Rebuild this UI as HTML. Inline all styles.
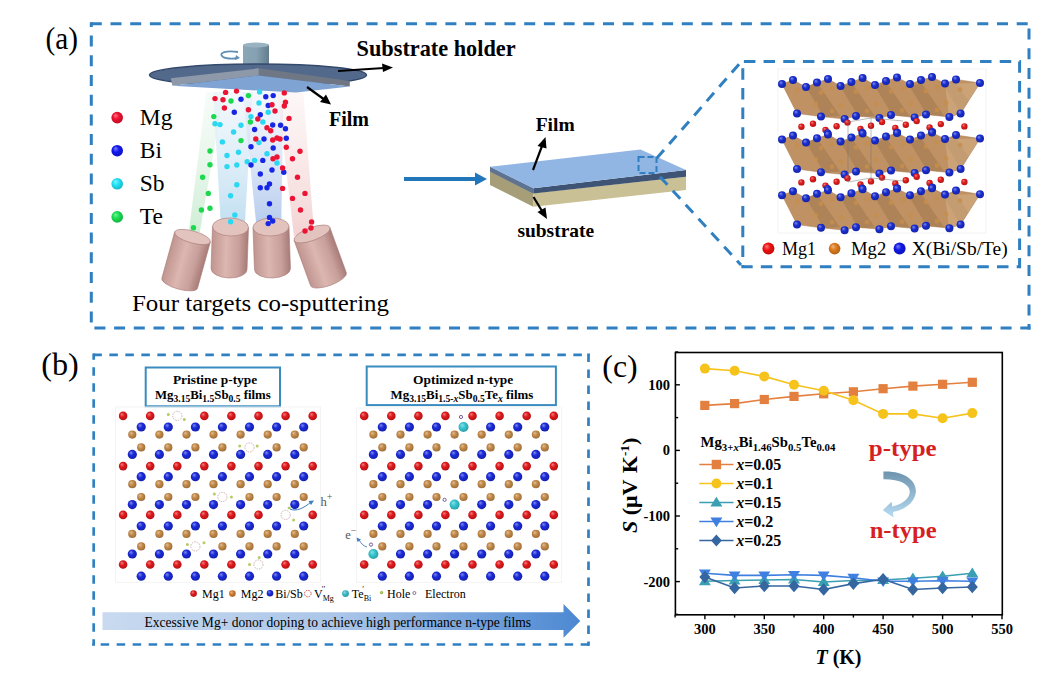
<!DOCTYPE html>
<html><head><meta charset="utf-8"><title>figure</title>
<style>
html,body{margin:0;padding:0;background:#fff;width:1050px;height:681px;overflow:hidden}
svg{display:block}
text{font-family:"Liberation Serif",serif}
</style></head><body>
<svg width="1050" height="681" viewBox="0 0 1050 681">
<defs>
<linearGradient id="cyl" x1="0" x2="1" y1="0" y2="0">
<stop offset="0" stop-color="#c09590"/><stop offset="0.4" stop-color="#dcb6b0"/><stop offset="0.75" stop-color="#c9a09b"/><stop offset="1" stop-color="#a87c78"/></linearGradient>
<linearGradient id="post" x1="0" x2="1" y1="0" y2="0">
<stop offset="0" stop-color="#8aa6b6"/><stop offset="0.5" stop-color="#86a2b2"/><stop offset="1" stop-color="#627e8e"/></linearGradient>
<linearGradient id="banner" x1="0" x2="1" y1="0" y2="0">
<stop offset="0" stop-color="#c9daf0"/><stop offset="0.5" stop-color="#aac5e8"/><stop offset="1" stop-color="#4c88d2"/></linearGradient>
<linearGradient id="curv" x1="0" x2="0" y1="0" y2="1">
<stop offset="0" stop-color="#6e93ae"/><stop offset="1" stop-color="#b6dcf2"/></linearGradient>
</defs>
<text x="45.5" y="48.5" font-size="32.6" font-weight="normal" text-anchor="start" fill="#000"  textLength="32.5" lengthAdjust="spacingAndGlyphs">(a)</text>
<line x1="89.8" y1="23.8" x2="1030.5" y2="23.8" stroke="#2f7fc1" stroke-width="3" stroke-dasharray="11 8.7" stroke-dashoffset="-1" stroke-linecap="butt"/>
<line x1="91.3" y1="22.3" x2="91.3" y2="329.5" stroke="#2f7fc1" stroke-width="3" stroke-dasharray="11 8.7" stroke-dashoffset="6.4" stroke-linecap="butt"/>
<line x1="89.8" y1="328" x2="1030.5" y2="328" stroke="#2f7fc1" stroke-width="3" stroke-dasharray="11 8.7" stroke-dashoffset="15.1" stroke-linecap="butt"/>
<line x1="1029" y1="22.3" x2="1029" y2="329.5" stroke="#2f7fc1" stroke-width="3" stroke-dasharray="11 8.7" stroke-dashoffset="13.4" stroke-linecap="butt"/>
<defs><linearGradient id="bmG" x1="0" y1="0" x2="0" y2="1"><stop offset="0" stop-color="#e4f4e8" stop-opacity="0.3"/><stop offset="1" stop-color="#bfe8c8" stop-opacity="0.75"/></linearGradient><linearGradient id="bmC" x1="0" y1="0" x2="0" y2="1"><stop offset="0" stop-color="#e0eef8" stop-opacity="0.4"/><stop offset="1" stop-color="#b4d8ee" stop-opacity="0.8"/></linearGradient><linearGradient id="bmB" x1="0" y1="0" x2="0" y2="1"><stop offset="0" stop-color="#dde6f6" stop-opacity="0.3"/><stop offset="1" stop-color="#a6c0ea" stop-opacity="0.8"/></linearGradient><linearGradient id="bmR" x1="0" y1="0" x2="0" y2="1"><stop offset="0" stop-color="#f8e4e4" stop-opacity="0.3"/><stop offset="1" stop-color="#f0c4c4" stop-opacity="0.75"/></linearGradient></defs>
<polygon points="206.4,92 224,92 199.8,232 188.8,232" fill="url(#bmG)"/>
<polygon points="213,92 252.6,92 245,222 220.7,222" fill="url(#bmC)"/>
<polygon points="242.7,92 283.5,92 281.3,222 256,222" fill="url(#bmB)"/>
<polygon points="276.9,92 303.3,92 314,232 294,236" fill="url(#bmR)"/>
<rect x="243" y="45" width="26" height="22" fill="url(#post)"/>
<ellipse cx="256" cy="45" rx="13" ry="2.5" fill="#9ab3c1"/>
<path d="M238,52 C226,50 219,53 222,56 C224,59 233,59 238,58" fill="none" stroke="#5f8fb5" stroke-width="1.8"/>
<path d="M236,55 L240,58 L235,60 Z" fill="#5f8fb5"/>
<ellipse cx="258" cy="75" rx="108.5" ry="11" fill="#53698c" stroke="#344a6c" stroke-width="1.5"/>
<polygon points="170.8,78.2 258.9,68.3 258.9,75.5 172.4,85.8" fill="#8d98a8"/>
<polygon points="258.9,68.3 349.8,81 349.8,86.5 258.9,75.5" fill="#6f7785"/>
<polygon points="172.4,85.8 258.9,75.5 349.8,86.5 296.1,92.6" fill="#7fa3d3"/>
<line x1="338" y1="71" x2="384" y2="68" stroke="#000" stroke-width="2.2"/>
<polygon points="393,67.5 382,63.5 383,72" fill="#000"/>
<line x1="307" y1="87" x2="325" y2="100" stroke="#000" stroke-width="2.2"/>
<polygon points="331,104.5 320,102 326,94.5" fill="#000"/>
<text x="356.6" y="56.2" font-size="22.5" font-weight="bold" text-anchor="start" fill="#000"  textLength="159" lengthAdjust="spacingAndGlyphs">Substrate holder</text>
<text x="329" y="125.6" font-size="20" font-weight="bold" text-anchor="start" fill="#000"  >Film</text>
<circle cx="117.2" cy="117.6" r="5.8" fill="url(#gf0102e)"/>
<text x="139.8" y="124.8" font-size="23.5" font-weight="normal" text-anchor="start" fill="#000"  >Mg</text>
<circle cx="117.2" cy="150.7" r="5.8" fill="url(#g1218f0)"/>
<text x="139.8" y="157.89999999999998" font-size="23.5" font-weight="normal" text-anchor="start" fill="#000"  >Bi</text>
<circle cx="117.2" cy="183.8" r="5.8" fill="url(#g20e4f8)"/>
<text x="139.8" y="191.0" font-size="23.5" font-weight="normal" text-anchor="start" fill="#000"  >Sb</text>
<circle cx="117.2" cy="216.9" r="5.8" fill="url(#g18e050)"/>
<text x="139.8" y="224.1" font-size="23.5" font-weight="normal" text-anchor="start" fill="#000"  >Te</text>
<g transform="translate(192.5,237) rotate(15.5)">
<path d="M-18.5,0 L-18.5,48 A18.5,6 0 0 0 18.5,48 L18.5,0 Z" fill="url(#cyl)" stroke="#a87a76" stroke-width="0.6"/>
<ellipse cx="0" cy="0" rx="18.5" ry="6" fill="#e3c3be" stroke="#a87c78" stroke-width="0.6"/>
</g>
<g transform="translate(230.5,227) rotate(2)">
<path d="M-18,0 L-18,42 A18,9 0 0 0 18,42 L18,0 Z" fill="url(#cyl)" stroke="#a87a76" stroke-width="0.6"/>
<ellipse cx="0" cy="0" rx="18" ry="9" fill="#e3c3be" stroke="#a87c78" stroke-width="0.6"/>
</g>
<g transform="translate(271,227) rotate(-2)">
<path d="M-18,0 L-18,42 A18,9 0 0 0 18,42 L18,0 Z" fill="url(#cyl)" stroke="#a87a76" stroke-width="0.6"/>
<ellipse cx="0" cy="0" rx="18" ry="9" fill="#e3c3be" stroke="#a87c78" stroke-width="0.6"/>
</g>
<g transform="translate(312,234) rotate(-20)">
<path d="M-19,0 L-19,48 A19,6.5 0 0 0 19,48 L19,0 Z" fill="url(#cyl)" stroke="#a87a76" stroke-width="0.6"/>
<ellipse cx="0" cy="0" rx="19" ry="6.5" fill="#e3c3be" stroke="#a87c78" stroke-width="0.6"/>
</g>
<circle cx="248.4" cy="95.6" r="2.7" fill="#1cd84e"/>
<circle cx="231.0" cy="101.0" r="2.7" fill="#1cd84e"/>
<circle cx="213.8" cy="116.6" r="2.7" fill="#1cd84e"/>
<circle cx="250.4" cy="122.0" r="2.7" fill="#1cd84e"/>
<circle cx="241.0" cy="140.6" r="2.7" fill="#1cd84e"/>
<circle cx="210.0" cy="151.0" r="2.7" fill="#1cd84e"/>
<circle cx="210.0" cy="164.7" r="2.7" fill="#1cd84e"/>
<circle cx="202.6" cy="177.3" r="2.7" fill="#1cd84e"/>
<circle cx="208.3" cy="193.4" r="2.7" fill="#1cd84e"/>
<circle cx="201.4" cy="210.0" r="2.7" fill="#1cd84e"/>
<circle cx="210.0" cy="208.2" r="2.7" fill="#1cd84e"/>
<circle cx="193.5" cy="227.8" r="2.7" fill="#1cd84e"/>
<circle cx="259.6" cy="91.9" r="2.7" fill="#2ad8f2"/>
<circle cx="259.0" cy="103.0" r="2.7" fill="#2ad8f2"/>
<circle cx="268.2" cy="112.2" r="2.7" fill="#2ad8f2"/>
<circle cx="251.0" cy="116.6" r="2.7" fill="#2ad8f2"/>
<circle cx="262.8" cy="122.0" r="2.7" fill="#2ad8f2"/>
<circle cx="215.0" cy="123.8" r="2.7" fill="#2ad8f2"/>
<circle cx="220.0" cy="124.6" r="2.7" fill="#2ad8f2"/>
<circle cx="241.0" cy="125.3" r="2.7" fill="#2ad8f2"/>
<circle cx="233.6" cy="132.0" r="2.7" fill="#2ad8f2"/>
<circle cx="222.4" cy="141.9" r="2.7" fill="#2ad8f2"/>
<circle cx="259.0" cy="142.6" r="2.7" fill="#2ad8f2"/>
<circle cx="238.5" cy="152.3" r="2.7" fill="#2ad8f2"/>
<circle cx="227.0" cy="155.5" r="2.7" fill="#2ad8f2"/>
<circle cx="267.0" cy="153.8" r="2.7" fill="#2ad8f2"/>
<circle cx="247.2" cy="161.7" r="2.7" fill="#2ad8f2"/>
<circle cx="254.6" cy="160.4" r="2.7" fill="#2ad8f2"/>
<circle cx="277.0" cy="163.0" r="2.7" fill="#2ad8f2"/>
<circle cx="227.0" cy="166.6" r="2.7" fill="#2ad8f2"/>
<circle cx="236.8" cy="165.0" r="2.7" fill="#2ad8f2"/>
<circle cx="236.8" cy="184.7" r="2.7" fill="#2ad8f2"/>
<circle cx="230.6" cy="195.8" r="2.7" fill="#2ad8f2"/>
<circle cx="234.8" cy="215.0" r="2.7" fill="#2ad8f2"/>
<circle cx="230.6" cy="221.8" r="2.7" fill="#2ad8f2"/>
<circle cx="241.0" cy="99.3" r="2.7" fill="#1626e4"/>
<circle cx="265.8" cy="96.8" r="2.7" fill="#1626e4"/>
<circle cx="273.2" cy="95.6" r="2.7" fill="#1626e4"/>
<circle cx="268.2" cy="105.5" r="2.7" fill="#1626e4"/>
<circle cx="234.3" cy="112.2" r="2.7" fill="#1626e4"/>
<circle cx="260.3" cy="114.7" r="2.7" fill="#1626e4"/>
<circle cx="272.7" cy="125.0" r="2.7" fill="#1626e4"/>
<circle cx="280.6" cy="125.3" r="2.7" fill="#1626e4"/>
<circle cx="285.5" cy="128.8" r="2.7" fill="#1626e4"/>
<circle cx="254.6" cy="129.5" r="2.7" fill="#1626e4"/>
<circle cx="264.0" cy="139.0" r="2.7" fill="#1626e4"/>
<circle cx="286.3" cy="138.2" r="2.7" fill="#1626e4"/>
<circle cx="251.0" cy="146.8" r="2.7" fill="#1626e4"/>
<circle cx="273.2" cy="148.0" r="2.7" fill="#1626e4"/>
<circle cx="262.8" cy="160.4" r="2.7" fill="#1626e4"/>
<circle cx="251.0" cy="165.0" r="2.7" fill="#1626e4"/>
<circle cx="272.0" cy="170.0" r="2.7" fill="#1626e4"/>
<circle cx="283.8" cy="172.3" r="2.7" fill="#1626e4"/>
<circle cx="260.3" cy="174.0" r="2.7" fill="#1626e4"/>
<circle cx="260.3" cy="187.7" r="2.7" fill="#1626e4"/>
<circle cx="267.0" cy="187.7" r="2.7" fill="#1626e4"/>
<circle cx="269.5" cy="184.0" r="2.7" fill="#1626e4"/>
<circle cx="269.5" cy="203.8" r="2.7" fill="#1626e4"/>
<circle cx="269.5" cy="217.4" r="2.7" fill="#1626e4"/>
<circle cx="272.7" cy="221.0" r="2.7" fill="#1626e4"/>
<circle cx="268.2" cy="223.6" r="2.7" fill="#1626e4"/>
<circle cx="225.6" cy="92.4" r="2.7" fill="#ec1434"/>
<circle cx="236.5" cy="91.1" r="2.7" fill="#ec1434"/>
<circle cx="215.0" cy="98.6" r="2.7" fill="#ec1434"/>
<circle cx="223.0" cy="99.8" r="2.7" fill="#ec1434"/>
<circle cx="284.3" cy="92.9" r="2.7" fill="#ec1434"/>
<circle cx="224.4" cy="108.0" r="2.7" fill="#ec1434"/>
<circle cx="248.4" cy="109.7" r="2.7" fill="#ec1434"/>
<circle cx="272.0" cy="104.8" r="2.7" fill="#ec1434"/>
<circle cx="285.5" cy="102.3" r="2.7" fill="#ec1434"/>
<circle cx="284.3" cy="106.0" r="2.7" fill="#ec1434"/>
<circle cx="275.0" cy="111.0" r="2.7" fill="#ec1434"/>
<circle cx="289.0" cy="118.4" r="2.7" fill="#ec1434"/>
<circle cx="257.8" cy="119.0" r="2.7" fill="#ec1434"/>
<circle cx="267.0" cy="127.8" r="2.7" fill="#ec1434"/>
<circle cx="270.7" cy="130.7" r="2.7" fill="#ec1434"/>
<circle cx="255.8" cy="139.0" r="2.7" fill="#ec1434"/>
<circle cx="272.7" cy="140.0" r="2.7" fill="#ec1434"/>
<circle cx="277.0" cy="138.0" r="2.7" fill="#ec1434"/>
<circle cx="280.0" cy="139.0" r="2.7" fill="#ec1434"/>
<circle cx="286.3" cy="147.3" r="2.7" fill="#ec1434"/>
<circle cx="300.0" cy="151.3" r="2.7" fill="#ec1434"/>
<circle cx="273.0" cy="158.7" r="2.7" fill="#ec1434"/>
<circle cx="277.0" cy="157.0" r="2.7" fill="#ec1434"/>
<circle cx="292.5" cy="158.7" r="2.7" fill="#ec1434"/>
<circle cx="282.6" cy="168.0" r="2.7" fill="#ec1434"/>
<circle cx="297.5" cy="177.3" r="2.7" fill="#ec1434"/>
<circle cx="282.6" cy="188.4" r="2.7" fill="#ec1434"/>
<circle cx="305.0" cy="193.4" r="2.7" fill="#ec1434"/>
<circle cx="292.5" cy="198.4" r="2.7" fill="#ec1434"/>
<circle cx="300.5" cy="210.0" r="2.7" fill="#ec1434"/>
<circle cx="311.6" cy="221.9" r="2.7" fill="#ec1434"/>
<circle cx="311.0" cy="228.0" r="2.7" fill="#ec1434"/>
<circle cx="305.0" cy="231.0" r="2.7" fill="#ec1434"/>
<text x="132" y="310.5" font-size="23.5" font-weight="normal" text-anchor="start" fill="#000"  textLength="257" lengthAdjust="spacingAndGlyphs">Four targets co-sputtering</text>
<line x1="404" y1="179" x2="477" y2="179" stroke="#2277bb" stroke-width="4"/>
<polygon points="487,179 475,172.5 475,185.5" fill="#2277bb"/>
<polygon points="490,185 533.3,206.7 533.3,188.3 490,166.7" fill="#a59e78"/>
<polygon points="490,166.7 533.3,188.3 533.3,193.5 490,171.5" fill="#5e7391"/>
<polygon points="533.3,193.3 686,176.7 686,190 533.3,206.7" fill="#c9c095"/>
<polygon points="533.3,188.3 686,170 686,176.7 533.3,193.5" fill="#3f5474"/>
<polygon points="490,166.7 640.5,149.5 686,170 533.3,188.3" fill="#92b6e4"/>
<line x1="533" y1="170" x2="542" y2="146" stroke="#000" stroke-width="2.2"/>
<polygon points="545.5,137 537.5,146 546.5,148.5" fill="#000"/>
<line x1="533.5" y1="197" x2="542" y2="211" stroke="#000" stroke-width="2.2"/>
<polygon points="547,219 537.5,212 545.5,207.5" fill="#000"/>
<text x="535.7" y="131.4" font-size="19.5" font-weight="bold" text-anchor="start" fill="#000"  >Film</text>
<text x="517.4" y="236.5" font-size="19" font-weight="bold" text-anchor="start" fill="#000"  textLength="76.8" lengthAdjust="spacingAndGlyphs">substrate</text>
<rect x="638.5" y="157" width="18" height="16" fill="none" stroke="#2f7fc1" stroke-width="2" stroke-dasharray="6 3"/>
<line x1="656.7" y1="158.3" x2="741" y2="62" stroke="#2f7fc1" stroke-width="3" stroke-dasharray="11 8"/>
<line x1="660" y1="176.7" x2="741" y2="265" stroke="#2f7fc1" stroke-width="3" stroke-dasharray="11 8"/>
<rect x="742.8" y="61.5" width="276.80000000000007" height="205.2" fill="none" stroke="#2f7fc1" stroke-width="3" stroke-dasharray="11.5 8.18" stroke-dashoffset="-1.1"/>
<rect x="778" y="69" width="208" height="164" fill="none" stroke="#f3f3f3" stroke-width="1"/>
<clipPath id="lay0"><polygon points="782.0,84.0 793.0,80.0 806.0,87.0 817.0,82.6 828.0,79.0 840.6,86.0 851.4,82.0 862.6,78.0 875.0,85.0 886.0,81.0 897.0,77.4 910.0,84.0 921.0,80.0 932.0,77.0 945.0,83.4 956.0,79.4 980.0,83.0 960.6,113.4 960.6,113.4 949.4,117.0 926.0,114.6 914.6,117.4 891.0,115.0 879.4,118.0 856.0,116.0 844.6,119.0 821.0,116.6 797.0,113.4 797.0,113.4"/></clipPath>
<polygon points="782.0,84.0 793.0,80.0 806.0,87.0 817.0,82.6 828.0,79.0 840.6,86.0 851.4,82.0 862.6,78.0 875.0,85.0 886.0,81.0 897.0,77.4 910.0,84.0 921.0,80.0 932.0,77.0 945.0,83.4 956.0,79.4 980.0,83.0 960.6,113.4 960.6,113.4 949.4,117.0 926.0,114.6 914.6,117.4 891.0,115.0 879.4,118.0 856.0,116.0 844.6,119.0 821.0,116.6 797.0,113.4 797.0,113.4" fill="#bf9163" stroke="#a87c50" stroke-width="0.5"/>
<g clip-path="url(#lay0)">
<polygon points="806.0,87.0 817.0,82.6 840.0,116.0 824.0,117.0" fill="#8f6a42" opacity="0.35"/>
<polygon points="840.7,87.0 851.7,82.6 874.7,116.0 858.7,117.0" fill="#8f6a42" opacity="0.35"/>
<polygon points="875.4,87.0 886.4,82.6 909.4,116.0 893.4,117.0" fill="#8f6a42" opacity="0.35"/>
<polygon points="910.1,87.0 921.1,82.6 944.1,116.0 928.1,117.0" fill="#8f6a42" opacity="0.35"/>
<polygon points="944.8,87.0 955.8,82.6 978.8,116.0 962.8,117.0" fill="#8f6a42" opacity="0.35"/>
<polygon points="945,83.4 980,83.0 960.6,113.4 949,117.0" fill="#d8b58c" opacity="0.5"/>
</g>
<circle cx="797" cy="90.0" r="2.4" fill="#c68e4e" opacity="0.85"/>
<circle cx="821" cy="92.5" r="2.4" fill="#c68e4e" opacity="0.85"/>
<circle cx="832" cy="88.5" r="2.4" fill="#c68e4e" opacity="0.85"/>
<circle cx="856" cy="91.7" r="2.4" fill="#c68e4e" opacity="0.85"/>
<circle cx="867" cy="88.0" r="2.4" fill="#c68e4e" opacity="0.85"/>
<circle cx="891" cy="91.5" r="2.4" fill="#c68e4e" opacity="0.85"/>
<circle cx="903" cy="88.0" r="2.4" fill="#c68e4e" opacity="0.85"/>
<circle cx="926" cy="91.0" r="2.4" fill="#c68e4e" opacity="0.85"/>
<circle cx="937" cy="87.0" r="2.4" fill="#c68e4e" opacity="0.85"/>
<circle cx="960" cy="89.5" r="2.4" fill="#c68e4e" opacity="0.85"/>
<circle cx="816" cy="104.0" r="2.4" fill="#c68e4e" opacity="0.85"/>
<circle cx="841" cy="106.0" r="2.4" fill="#c68e4e" opacity="0.85"/>
<circle cx="876" cy="104.0" r="2.4" fill="#c68e4e" opacity="0.85"/>
<circle cx="911" cy="104.0" r="2.4" fill="#c68e4e" opacity="0.85"/>
<circle cx="946" cy="103.0" r="2.4" fill="#c68e4e" opacity="0.85"/>
<circle cx="832" cy="111.0" r="2.4" fill="#c68e4e" opacity="0.85"/>
<circle cx="867" cy="111.0" r="2.4" fill="#c68e4e" opacity="0.85"/>
<circle cx="902" cy="110.5" r="2.4" fill="#c68e4e" opacity="0.85"/>
<circle cx="937" cy="110.0" r="2.4" fill="#c68e4e" opacity="0.85"/>
<circle cx="782.0" cy="84.0" r="4" fill="url(#g1a2ed0)"/>
<circle cx="793.0" cy="80.0" r="4" fill="url(#g1a2ed0)"/>
<circle cx="806.0" cy="87.0" r="4" fill="url(#g1a2ed0)"/>
<circle cx="817.0" cy="82.6" r="4" fill="url(#g1a2ed0)"/>
<circle cx="828.0" cy="79.0" r="4" fill="url(#g1a2ed0)"/>
<circle cx="840.6" cy="86.0" r="4" fill="url(#g1a2ed0)"/>
<circle cx="851.4" cy="82.0" r="4" fill="url(#g1a2ed0)"/>
<circle cx="862.6" cy="78.0" r="4" fill="url(#g1a2ed0)"/>
<circle cx="875.0" cy="85.0" r="4" fill="url(#g1a2ed0)"/>
<circle cx="886.0" cy="81.0" r="4" fill="url(#g1a2ed0)"/>
<circle cx="897.0" cy="77.4" r="4" fill="url(#g1a2ed0)"/>
<circle cx="910.0" cy="84.0" r="4" fill="url(#g1a2ed0)"/>
<circle cx="921.0" cy="80.0" r="4" fill="url(#g1a2ed0)"/>
<circle cx="932.0" cy="77.0" r="4" fill="url(#g1a2ed0)"/>
<circle cx="945.0" cy="83.4" r="4" fill="url(#g1a2ed0)"/>
<circle cx="956.0" cy="79.4" r="4" fill="url(#g1a2ed0)"/>
<circle cx="980.0" cy="83.0" r="4" fill="url(#g1a2ed0)"/>
<circle cx="797.0" cy="113.4" r="4" fill="url(#g1a2ed0)"/>
<circle cx="821.0" cy="116.6" r="4" fill="url(#g1a2ed0)"/>
<circle cx="844.6" cy="119.0" r="4" fill="url(#g1a2ed0)"/>
<circle cx="856.0" cy="116.0" r="4" fill="url(#g1a2ed0)"/>
<circle cx="879.4" cy="118.0" r="4" fill="url(#g1a2ed0)"/>
<circle cx="891.0" cy="115.0" r="4" fill="url(#g1a2ed0)"/>
<circle cx="914.6" cy="117.4" r="4" fill="url(#g1a2ed0)"/>
<circle cx="926.0" cy="114.6" r="4" fill="url(#g1a2ed0)"/>
<circle cx="949.4" cy="117.0" r="4" fill="url(#g1a2ed0)"/>
<circle cx="960.6" cy="113.4" r="4" fill="url(#g1a2ed0)"/>
<circle cx="801.4" cy="126.8" r="3.2" fill="url(#ge01b1b)"/>
<circle cx="813.0" cy="123.7" r="3.2" fill="url(#ge01b1b)"/>
<circle cx="825.5" cy="130.0" r="3.2" fill="url(#ge01b1b)"/>
<circle cx="836.6" cy="126.2" r="3.2" fill="url(#ge01b1b)"/>
<circle cx="847.5" cy="122.6" r="3.2" fill="url(#ge01b1b)"/>
<circle cx="860.5" cy="128.9" r="3.2" fill="url(#ge01b1b)"/>
<circle cx="871.0" cy="125.8" r="3.2" fill="url(#ge01b1b)"/>
<circle cx="882.0" cy="122.0" r="3.2" fill="url(#ge01b1b)"/>
<circle cx="895.3" cy="127.9" r="3.2" fill="url(#ge01b1b)"/>
<circle cx="905.8" cy="124.7" r="3.2" fill="url(#ge01b1b)"/>
<circle cx="916.7" cy="121.1" r="3.2" fill="url(#ge01b1b)"/>
<circle cx="929.6" cy="127.4" r="3.2" fill="url(#ge01b1b)"/>
<circle cx="940.8" cy="124.1" r="3.2" fill="url(#ge01b1b)"/>
<circle cx="964.4" cy="126.4" r="3.2" fill="url(#ge01b1b)"/>
<clipPath id="lay1"><polygon points="782.0,139.6 793.0,135.6 806.0,142.6 817.0,138.2 828.0,134.6 840.6,141.6 851.4,137.6 862.6,133.6 875.0,140.6 886.0,136.6 897.0,133.0 910.0,139.6 921.0,135.6 932.0,132.6 945.0,139.0 956.0,135.0 980.0,138.6 960.6,169.0 960.6,169.0 949.4,172.6 926.0,170.2 914.6,173.0 891.0,170.6 879.4,173.6 856.0,171.6 844.6,174.6 821.0,172.2 797.0,169.0 797.0,169.0"/></clipPath>
<polygon points="782.0,139.6 793.0,135.6 806.0,142.6 817.0,138.2 828.0,134.6 840.6,141.6 851.4,137.6 862.6,133.6 875.0,140.6 886.0,136.6 897.0,133.0 910.0,139.6 921.0,135.6 932.0,132.6 945.0,139.0 956.0,135.0 980.0,138.6 960.6,169.0 960.6,169.0 949.4,172.6 926.0,170.2 914.6,173.0 891.0,170.6 879.4,173.6 856.0,171.6 844.6,174.6 821.0,172.2 797.0,169.0 797.0,169.0" fill="#bf9163" stroke="#a87c50" stroke-width="0.5"/>
<g clip-path="url(#lay1)">
<polygon points="806.0,142.6 817.0,138.2 840.0,171.6 824.0,172.6" fill="#8f6a42" opacity="0.35"/>
<polygon points="840.7,142.6 851.7,138.2 874.7,171.6 858.7,172.6" fill="#8f6a42" opacity="0.35"/>
<polygon points="875.4,142.6 886.4,138.2 909.4,171.6 893.4,172.6" fill="#8f6a42" opacity="0.35"/>
<polygon points="910.1,142.6 921.1,138.2 944.1,171.6 928.1,172.6" fill="#8f6a42" opacity="0.35"/>
<polygon points="944.8,142.6 955.8,138.2 978.8,171.6 962.8,172.6" fill="#8f6a42" opacity="0.35"/>
<polygon points="945,139.0 980,138.6 960.6,169.0 949,172.6" fill="#d8b58c" opacity="0.5"/>
</g>
<circle cx="797" cy="145.6" r="2.4" fill="#c68e4e" opacity="0.85"/>
<circle cx="821" cy="148.1" r="2.4" fill="#c68e4e" opacity="0.85"/>
<circle cx="832" cy="144.1" r="2.4" fill="#c68e4e" opacity="0.85"/>
<circle cx="856" cy="147.3" r="2.4" fill="#c68e4e" opacity="0.85"/>
<circle cx="867" cy="143.6" r="2.4" fill="#c68e4e" opacity="0.85"/>
<circle cx="891" cy="147.1" r="2.4" fill="#c68e4e" opacity="0.85"/>
<circle cx="903" cy="143.6" r="2.4" fill="#c68e4e" opacity="0.85"/>
<circle cx="926" cy="146.6" r="2.4" fill="#c68e4e" opacity="0.85"/>
<circle cx="937" cy="142.6" r="2.4" fill="#c68e4e" opacity="0.85"/>
<circle cx="960" cy="145.1" r="2.4" fill="#c68e4e" opacity="0.85"/>
<circle cx="816" cy="159.6" r="2.4" fill="#c68e4e" opacity="0.85"/>
<circle cx="841" cy="161.6" r="2.4" fill="#c68e4e" opacity="0.85"/>
<circle cx="876" cy="159.6" r="2.4" fill="#c68e4e" opacity="0.85"/>
<circle cx="911" cy="159.6" r="2.4" fill="#c68e4e" opacity="0.85"/>
<circle cx="946" cy="158.6" r="2.4" fill="#c68e4e" opacity="0.85"/>
<circle cx="832" cy="166.6" r="2.4" fill="#c68e4e" opacity="0.85"/>
<circle cx="867" cy="166.6" r="2.4" fill="#c68e4e" opacity="0.85"/>
<circle cx="902" cy="166.1" r="2.4" fill="#c68e4e" opacity="0.85"/>
<circle cx="937" cy="165.6" r="2.4" fill="#c68e4e" opacity="0.85"/>
<circle cx="827.6" cy="133.0" r="3.7" fill="url(#g1a2ed0)"/>
<circle cx="862.2" cy="132.5" r="3.7" fill="url(#g1a2ed0)"/>
<circle cx="897.4" cy="132.5" r="3.7" fill="url(#g1a2ed0)"/>
<circle cx="932.4" cy="131.6" r="3.7" fill="url(#g1a2ed0)"/>
<circle cx="782.0" cy="139.6" r="4" fill="url(#g1a2ed0)"/>
<circle cx="793.0" cy="135.6" r="4" fill="url(#g1a2ed0)"/>
<circle cx="806.0" cy="142.6" r="4" fill="url(#g1a2ed0)"/>
<circle cx="817.0" cy="138.2" r="4" fill="url(#g1a2ed0)"/>
<circle cx="828.0" cy="134.6" r="4" fill="url(#g1a2ed0)"/>
<circle cx="840.6" cy="141.6" r="4" fill="url(#g1a2ed0)"/>
<circle cx="851.4" cy="137.6" r="4" fill="url(#g1a2ed0)"/>
<circle cx="862.6" cy="133.6" r="4" fill="url(#g1a2ed0)"/>
<circle cx="875.0" cy="140.6" r="4" fill="url(#g1a2ed0)"/>
<circle cx="886.0" cy="136.6" r="4" fill="url(#g1a2ed0)"/>
<circle cx="897.0" cy="133.0" r="4" fill="url(#g1a2ed0)"/>
<circle cx="910.0" cy="139.6" r="4" fill="url(#g1a2ed0)"/>
<circle cx="921.0" cy="135.6" r="4" fill="url(#g1a2ed0)"/>
<circle cx="932.0" cy="132.6" r="4" fill="url(#g1a2ed0)"/>
<circle cx="945.0" cy="139.0" r="4" fill="url(#g1a2ed0)"/>
<circle cx="956.0" cy="135.0" r="4" fill="url(#g1a2ed0)"/>
<circle cx="980.0" cy="138.6" r="4" fill="url(#g1a2ed0)"/>
<circle cx="797.0" cy="169.0" r="4" fill="url(#g1a2ed0)"/>
<circle cx="821.0" cy="172.2" r="4" fill="url(#g1a2ed0)"/>
<circle cx="844.6" cy="174.6" r="4" fill="url(#g1a2ed0)"/>
<circle cx="856.0" cy="171.6" r="4" fill="url(#g1a2ed0)"/>
<circle cx="879.4" cy="173.6" r="4" fill="url(#g1a2ed0)"/>
<circle cx="891.0" cy="170.6" r="4" fill="url(#g1a2ed0)"/>
<circle cx="914.6" cy="173.0" r="4" fill="url(#g1a2ed0)"/>
<circle cx="926.0" cy="170.2" r="4" fill="url(#g1a2ed0)"/>
<circle cx="949.4" cy="172.6" r="4" fill="url(#g1a2ed0)"/>
<circle cx="960.6" cy="169.0" r="4" fill="url(#g1a2ed0)"/>
<circle cx="801.4" cy="182.4" r="3.2" fill="url(#ge01b1b)"/>
<circle cx="813.0" cy="179.3" r="3.2" fill="url(#ge01b1b)"/>
<circle cx="825.5" cy="185.6" r="3.2" fill="url(#ge01b1b)"/>
<circle cx="836.6" cy="181.8" r="3.2" fill="url(#ge01b1b)"/>
<circle cx="847.5" cy="178.2" r="3.2" fill="url(#ge01b1b)"/>
<circle cx="860.5" cy="184.5" r="3.2" fill="url(#ge01b1b)"/>
<circle cx="871.0" cy="181.4" r="3.2" fill="url(#ge01b1b)"/>
<circle cx="882.0" cy="177.6" r="3.2" fill="url(#ge01b1b)"/>
<circle cx="895.3" cy="183.5" r="3.2" fill="url(#ge01b1b)"/>
<circle cx="905.8" cy="180.3" r="3.2" fill="url(#ge01b1b)"/>
<circle cx="916.7" cy="176.7" r="3.2" fill="url(#ge01b1b)"/>
<circle cx="929.6" cy="183.0" r="3.2" fill="url(#ge01b1b)"/>
<circle cx="940.8" cy="179.7" r="3.2" fill="url(#ge01b1b)"/>
<circle cx="964.4" cy="182.0" r="3.2" fill="url(#ge01b1b)"/>
<clipPath id="lay2"><polygon points="782.0,195.2 793.0,191.2 806.0,198.2 817.0,193.8 828.0,190.2 840.6,197.2 851.4,193.2 862.6,189.2 875.0,196.2 886.0,192.2 897.0,188.6 910.0,195.2 921.0,191.2 932.0,188.2 945.0,194.6 956.0,190.6 980.0,194.2 960.6,224.6 960.6,224.6 949.4,228.2 926.0,225.8 914.6,228.6 891.0,226.2 879.4,229.2 856.0,227.2 844.6,230.2 821.0,227.8 797.0,224.6 797.0,224.6"/></clipPath>
<polygon points="782.0,195.2 793.0,191.2 806.0,198.2 817.0,193.8 828.0,190.2 840.6,197.2 851.4,193.2 862.6,189.2 875.0,196.2 886.0,192.2 897.0,188.6 910.0,195.2 921.0,191.2 932.0,188.2 945.0,194.6 956.0,190.6 980.0,194.2 960.6,224.6 960.6,224.6 949.4,228.2 926.0,225.8 914.6,228.6 891.0,226.2 879.4,229.2 856.0,227.2 844.6,230.2 821.0,227.8 797.0,224.6 797.0,224.6" fill="#bf9163" stroke="#a87c50" stroke-width="0.5"/>
<g clip-path="url(#lay2)">
<polygon points="806.0,198.2 817.0,193.8 840.0,227.2 824.0,228.2" fill="#8f6a42" opacity="0.35"/>
<polygon points="840.7,198.2 851.7,193.8 874.7,227.2 858.7,228.2" fill="#8f6a42" opacity="0.35"/>
<polygon points="875.4,198.2 886.4,193.8 909.4,227.2 893.4,228.2" fill="#8f6a42" opacity="0.35"/>
<polygon points="910.1,198.2 921.1,193.8 944.1,227.2 928.1,228.2" fill="#8f6a42" opacity="0.35"/>
<polygon points="944.8,198.2 955.8,193.8 978.8,227.2 962.8,228.2" fill="#8f6a42" opacity="0.35"/>
<polygon points="945,194.6 980,194.2 960.6,224.6 949,228.2" fill="#d8b58c" opacity="0.5"/>
</g>
<circle cx="797" cy="201.2" r="2.4" fill="#c68e4e" opacity="0.85"/>
<circle cx="821" cy="203.7" r="2.4" fill="#c68e4e" opacity="0.85"/>
<circle cx="832" cy="199.7" r="2.4" fill="#c68e4e" opacity="0.85"/>
<circle cx="856" cy="202.9" r="2.4" fill="#c68e4e" opacity="0.85"/>
<circle cx="867" cy="199.2" r="2.4" fill="#c68e4e" opacity="0.85"/>
<circle cx="891" cy="202.7" r="2.4" fill="#c68e4e" opacity="0.85"/>
<circle cx="903" cy="199.2" r="2.4" fill="#c68e4e" opacity="0.85"/>
<circle cx="926" cy="202.2" r="2.4" fill="#c68e4e" opacity="0.85"/>
<circle cx="937" cy="198.2" r="2.4" fill="#c68e4e" opacity="0.85"/>
<circle cx="960" cy="200.7" r="2.4" fill="#c68e4e" opacity="0.85"/>
<circle cx="816" cy="215.2" r="2.4" fill="#c68e4e" opacity="0.85"/>
<circle cx="841" cy="217.2" r="2.4" fill="#c68e4e" opacity="0.85"/>
<circle cx="876" cy="215.2" r="2.4" fill="#c68e4e" opacity="0.85"/>
<circle cx="911" cy="215.2" r="2.4" fill="#c68e4e" opacity="0.85"/>
<circle cx="946" cy="214.2" r="2.4" fill="#c68e4e" opacity="0.85"/>
<circle cx="832" cy="222.2" r="2.4" fill="#c68e4e" opacity="0.85"/>
<circle cx="867" cy="222.2" r="2.4" fill="#c68e4e" opacity="0.85"/>
<circle cx="902" cy="221.7" r="2.4" fill="#c68e4e" opacity="0.85"/>
<circle cx="937" cy="221.2" r="2.4" fill="#c68e4e" opacity="0.85"/>
<circle cx="827.6" cy="188.6" r="3.7" fill="url(#g1a2ed0)"/>
<circle cx="862.2" cy="188.1" r="3.7" fill="url(#g1a2ed0)"/>
<circle cx="897.4" cy="188.1" r="3.7" fill="url(#g1a2ed0)"/>
<circle cx="932.4" cy="187.2" r="3.7" fill="url(#g1a2ed0)"/>
<circle cx="782.0" cy="195.2" r="4" fill="url(#g1a2ed0)"/>
<circle cx="793.0" cy="191.2" r="4" fill="url(#g1a2ed0)"/>
<circle cx="806.0" cy="198.2" r="4" fill="url(#g1a2ed0)"/>
<circle cx="817.0" cy="193.8" r="4" fill="url(#g1a2ed0)"/>
<circle cx="828.0" cy="190.2" r="4" fill="url(#g1a2ed0)"/>
<circle cx="840.6" cy="197.2" r="4" fill="url(#g1a2ed0)"/>
<circle cx="851.4" cy="193.2" r="4" fill="url(#g1a2ed0)"/>
<circle cx="862.6" cy="189.2" r="4" fill="url(#g1a2ed0)"/>
<circle cx="875.0" cy="196.2" r="4" fill="url(#g1a2ed0)"/>
<circle cx="886.0" cy="192.2" r="4" fill="url(#g1a2ed0)"/>
<circle cx="897.0" cy="188.6" r="4" fill="url(#g1a2ed0)"/>
<circle cx="910.0" cy="195.2" r="4" fill="url(#g1a2ed0)"/>
<circle cx="921.0" cy="191.2" r="4" fill="url(#g1a2ed0)"/>
<circle cx="932.0" cy="188.2" r="4" fill="url(#g1a2ed0)"/>
<circle cx="945.0" cy="194.6" r="4" fill="url(#g1a2ed0)"/>
<circle cx="956.0" cy="190.6" r="4" fill="url(#g1a2ed0)"/>
<circle cx="980.0" cy="194.2" r="4" fill="url(#g1a2ed0)"/>
<circle cx="797.0" cy="224.6" r="4" fill="url(#g1a2ed0)"/>
<circle cx="821.0" cy="227.8" r="4" fill="url(#g1a2ed0)"/>
<circle cx="844.6" cy="230.2" r="4" fill="url(#g1a2ed0)"/>
<circle cx="856.0" cy="227.2" r="4" fill="url(#g1a2ed0)"/>
<circle cx="879.4" cy="229.2" r="4" fill="url(#g1a2ed0)"/>
<circle cx="891.0" cy="226.2" r="4" fill="url(#g1a2ed0)"/>
<circle cx="914.6" cy="228.6" r="4" fill="url(#g1a2ed0)"/>
<circle cx="926.0" cy="225.8" r="4" fill="url(#g1a2ed0)"/>
<circle cx="949.4" cy="228.2" r="4" fill="url(#g1a2ed0)"/>
<circle cx="960.6" cy="224.6" r="4" fill="url(#g1a2ed0)"/>
<path d="M848,122 L871,118 L903,121 M848,122 L848,182 M871,118 L871,178 M848,182 L871,178 L903,181" fill="none" stroke="#777" stroke-width="0.5"/>
<circle cx="768.4" cy="248.6" r="6" fill="url(#gf01010)"/>
<text x="782" y="254.5" font-size="18.5" font-weight="normal" text-anchor="start" fill="#000"  textLength="34" lengthAdjust="spacingAndGlyphs">Mg1</text>
<circle cx="834.6" cy="248.6" r="5.8" fill="url(#gdd7a1e)"/>
<text x="851" y="254.5" font-size="18.5" font-weight="normal" text-anchor="start" fill="#000"  textLength="35.3" lengthAdjust="spacingAndGlyphs">Mg2</text>
<circle cx="899.6" cy="248.6" r="6" fill="url(#g1018e8)"/>
<text x="911.8" y="254.5" font-size="18.5" font-weight="normal" text-anchor="start" fill="#000"  textLength="95.9" lengthAdjust="spacingAndGlyphs">X(Bi/Sb/Te)</text>
<text x="41.3" y="374.5" font-size="32.2" font-weight="normal" text-anchor="start" fill="#000"  >(b)</text>
<line x1="92.35000000000001" y1="354.9" x2="589.85" y2="354.9" stroke="#2f7fc1" stroke-width="2.7" stroke-dasharray="8.5 7.5" stroke-dashoffset="-1" stroke-linecap="butt"/>
<line x1="93.7" y1="353.54999999999995" x2="93.7" y2="645.85" stroke="#2f7fc1" stroke-width="2.7" stroke-dasharray="8.5 7.5" stroke-dashoffset="2.3" stroke-linecap="butt"/>
<line x1="92.35000000000001" y1="644.5" x2="589.85" y2="644.5" stroke="#2f7fc1" stroke-width="2.7" stroke-dasharray="8.5 7.5" stroke-dashoffset="7.7" stroke-linecap="butt"/>
<line x1="588.5" y1="353.54999999999995" x2="588.5" y2="645.85" stroke="#2f7fc1" stroke-width="2.7" stroke-dasharray="8.5 7.5" stroke-dashoffset="0" stroke-linecap="butt"/>
<rect x="145.7" y="367.5" width="134.3" height="38.8" fill="#fff" stroke="#3a8cc0" stroke-width="2"/>
<rect x="366.7" y="366.5" width="189.2" height="38.6" fill="#fff" stroke="#3a8cc0" stroke-width="2"/>
<text x="172.9" y="383.6" font-size="13.4" font-weight="bold" textLength="84.3" lengthAdjust="spacingAndGlyphs">Pristine p-type</text>
<text x="155" y="399.3" font-size="13.4" font-weight="bold" textLength="115.7" lengthAdjust="spacingAndGlyphs">Mg<tspan font-size="10" dy="3">3.15</tspan><tspan dy="-3">Bi</tspan><tspan font-size="10" dy="3">1.5</tspan><tspan dy="-3">Sb</tspan><tspan font-size="10" dy="3">0.5</tspan><tspan dy="-3"> films</tspan></text>
<text x="413" y="383.8" font-size="13.4" font-weight="bold" textLength="100.3" lengthAdjust="spacingAndGlyphs">Optimized n-type</text>
<text x="390.5" y="399" font-size="13.4" font-weight="bold" textLength="142.8" lengthAdjust="spacingAndGlyphs">Mg<tspan font-size="10" dy="3">3.15</tspan><tspan dy="-3">Bi</tspan><tspan font-size="10" dy="3">1.5-<tspan font-style="italic">x</tspan></tspan><tspan dy="-3">Sb</tspan><tspan font-size="10" dy="3">0.5</tspan><tspan dy="-3">Te</tspan><tspan font-size="10" dy="3" font-style="italic">x</tspan><tspan dy="-3"> films</tspan></text>
<rect x="115.5" y="407" width="205" height="175.3" fill="none" stroke="#f3f3f3" stroke-width="1"/>
<rect x="356.6" y="408" width="205" height="174.3" fill="none" stroke="#f3f3f3" stroke-width="1"/>
<circle cx="123.1" cy="415.9" r="4.3" fill="url(#ge0191c)"/>
<circle cx="150.2" cy="415.9" r="4.3" fill="url(#ge0191c)"/>
<circle cx="177.3" cy="415.9" r="4.6" fill="none" stroke="#c9a0a0" stroke-width="0.8" stroke-dasharray="1.5 1"/>
<circle cx="168.3" cy="414.5" r="1.5" fill="#b4cc64"/>
<circle cx="184.3" cy="419.5" r="1.5" fill="#b4cc64"/>
<circle cx="204.3" cy="415.9" r="4.3" fill="url(#ge0191c)"/>
<circle cx="231.4" cy="415.9" r="4.3" fill="url(#ge0191c)"/>
<circle cx="258.5" cy="415.9" r="4.3" fill="url(#ge0191c)"/>
<circle cx="285.6" cy="415.9" r="4.3" fill="url(#ge0191c)"/>
<circle cx="312.7" cy="415.9" r="4.3" fill="url(#ge0191c)"/>
<circle cx="141.2" cy="427.0" r="4.6" fill="url(#g1a2ad8)"/>
<circle cx="168.3" cy="427.0" r="4.6" fill="url(#g1a2ad8)"/>
<circle cx="195.4" cy="427.0" r="4.6" fill="url(#g1a2ad8)"/>
<circle cx="222.4" cy="427.0" r="4.6" fill="url(#g1a2ad8)"/>
<circle cx="249.5" cy="427.0" r="4.6" fill="url(#g1a2ad8)"/>
<circle cx="276.6" cy="427.0" r="4.6" fill="url(#g1a2ad8)"/>
<circle cx="303.7" cy="427.0" r="4.6" fill="url(#g1a2ad8)"/>
<circle cx="132.3" cy="434.6" r="4.1" fill="url(#gc48a48)"/>
<circle cx="159.4" cy="434.6" r="4.1" fill="url(#gc48a48)"/>
<circle cx="186.5" cy="434.6" r="4.1" fill="url(#gc48a48)"/>
<circle cx="213.5" cy="434.6" r="4.1" fill="url(#gc48a48)"/>
<circle cx="240.6" cy="434.6" r="4.1" fill="url(#gc48a48)"/>
<circle cx="267.7" cy="434.6" r="4.1" fill="url(#gc48a48)"/>
<circle cx="294.8" cy="434.6" r="4.1" fill="url(#gc48a48)"/>
<circle cx="141.2" cy="447.4" r="4.1" fill="url(#gc48a48)"/>
<circle cx="168.3" cy="447.4" r="4.1" fill="url(#gc48a48)"/>
<circle cx="195.4" cy="447.4" r="4.1" fill="url(#gc48a48)"/>
<circle cx="222.4" cy="447.4" r="4.1" fill="url(#gc48a48)"/>
<circle cx="249.5" cy="447.4" r="4.6" fill="none" stroke="#c9a0a0" stroke-width="0.8" stroke-dasharray="1.5 1"/>
<circle cx="239.7" cy="446.0" r="1.5" fill="#b4cc64"/>
<circle cx="257.2" cy="446.0" r="1.5" fill="#b4cc64"/>
<circle cx="276.6" cy="447.4" r="4.1" fill="url(#gc48a48)"/>
<circle cx="303.7" cy="447.4" r="4.1" fill="url(#gc48a48)"/>
<circle cx="132.3" cy="454.4" r="4.6" fill="url(#g1a2ad8)"/>
<circle cx="159.4" cy="454.4" r="4.6" fill="url(#g1a2ad8)"/>
<circle cx="186.5" cy="454.4" r="4.6" fill="url(#g1a2ad8)"/>
<circle cx="213.5" cy="454.4" r="4.6" fill="url(#g1a2ad8)"/>
<circle cx="240.6" cy="454.4" r="4.6" fill="url(#g1a2ad8)"/>
<circle cx="267.7" cy="454.4" r="4.6" fill="url(#g1a2ad8)"/>
<circle cx="294.8" cy="454.4" r="4.6" fill="url(#g1a2ad8)"/>
<circle cx="123.1" cy="466.1" r="4.3" fill="url(#ge0191c)"/>
<circle cx="150.2" cy="466.1" r="4.3" fill="url(#ge0191c)"/>
<circle cx="177.3" cy="466.1" r="4.3" fill="url(#ge0191c)"/>
<circle cx="204.3" cy="466.1" r="4.3" fill="url(#ge0191c)"/>
<circle cx="231.4" cy="466.1" r="4.3" fill="url(#ge0191c)"/>
<circle cx="258.5" cy="466.1" r="4.3" fill="url(#ge0191c)"/>
<circle cx="285.6" cy="466.1" r="4.3" fill="url(#ge0191c)"/>
<circle cx="312.7" cy="466.1" r="4.3" fill="url(#ge0191c)"/>
<circle cx="141.2" cy="476.7" r="4.6" fill="url(#g1a2ad8)"/>
<circle cx="168.3" cy="476.7" r="4.6" fill="url(#g1a2ad8)"/>
<circle cx="195.4" cy="476.7" r="4.6" fill="url(#g1a2ad8)"/>
<circle cx="222.4" cy="476.7" r="4.6" fill="url(#g1a2ad8)"/>
<circle cx="249.5" cy="476.7" r="4.6" fill="url(#g1a2ad8)"/>
<circle cx="276.6" cy="476.7" r="4.6" fill="url(#g1a2ad8)"/>
<circle cx="303.7" cy="476.7" r="4.6" fill="url(#g1a2ad8)"/>
<circle cx="132.3" cy="484.2" r="4.1" fill="url(#gc48a48)"/>
<circle cx="159.4" cy="484.2" r="4.1" fill="url(#gc48a48)"/>
<circle cx="186.5" cy="484.2" r="4.1" fill="url(#gc48a48)"/>
<circle cx="213.5" cy="484.2" r="4.1" fill="url(#gc48a48)"/>
<circle cx="240.6" cy="484.2" r="4.1" fill="url(#gc48a48)"/>
<circle cx="267.7" cy="484.2" r="4.1" fill="url(#gc48a48)"/>
<circle cx="294.8" cy="484.2" r="4.1" fill="url(#gc48a48)"/>
<circle cx="141.2" cy="497.0" r="4.1" fill="url(#gc48a48)"/>
<circle cx="168.3" cy="497.0" r="4.1" fill="url(#gc48a48)"/>
<circle cx="195.4" cy="497.0" r="4.1" fill="url(#gc48a48)"/>
<circle cx="222.4" cy="497" r="4.6" fill="none" stroke="#c9a0a0" stroke-width="0.8" stroke-dasharray="1.5 1"/>
<circle cx="214.4" cy="494.0" r="1.5" fill="#b4cc64"/>
<circle cx="231.4" cy="497.0" r="1.5" fill="#b4cc64"/>
<circle cx="249.5" cy="497.0" r="4.1" fill="url(#gc48a48)"/>
<circle cx="276.6" cy="497.0" r="4.1" fill="url(#gc48a48)"/>
<circle cx="303.7" cy="497.0" r="4.1" fill="url(#gc48a48)"/>
<circle cx="132.3" cy="504.6" r="4.6" fill="url(#g1a2ad8)"/>
<circle cx="159.4" cy="504.6" r="4.6" fill="url(#g1a2ad8)"/>
<circle cx="186.5" cy="504.6" r="4.6" fill="url(#g1a2ad8)"/>
<circle cx="213.5" cy="504.6" r="4.6" fill="url(#g1a2ad8)"/>
<circle cx="240.6" cy="504.6" r="4.6" fill="url(#g1a2ad8)"/>
<circle cx="267.7" cy="504.6" r="4.6" fill="url(#g1a2ad8)"/>
<circle cx="294.8" cy="504.6" r="4.6" fill="url(#g1a2ad8)"/>
<circle cx="123.1" cy="514.9" r="4.3" fill="url(#ge0191c)"/>
<circle cx="150.2" cy="514.9" r="4.3" fill="url(#ge0191c)"/>
<circle cx="177.3" cy="514.9" r="4.3" fill="url(#ge0191c)"/>
<circle cx="204.3" cy="514.9" r="4.3" fill="url(#ge0191c)"/>
<circle cx="231.4" cy="514.9" r="4.3" fill="url(#ge0191c)"/>
<circle cx="258.5" cy="514.9" r="4.3" fill="url(#ge0191c)"/>
<circle cx="285.6" cy="514.9" r="4.6" fill="none" stroke="#c9a0a0" stroke-width="0.8" stroke-dasharray="1.5 1"/>
<circle cx="289.1" cy="507.9" r="1.5" fill="#b4cc64"/>
<circle cx="293.6" cy="519.9" r="1.5" fill="#b4cc64"/>
<circle cx="312.7" cy="514.9" r="4.3" fill="url(#ge0191c)"/>
<circle cx="141.2" cy="526.0" r="4.6" fill="url(#g1a2ad8)"/>
<circle cx="168.3" cy="526.0" r="4.6" fill="url(#g1a2ad8)"/>
<circle cx="195.4" cy="526.0" r="4.6" fill="url(#g1a2ad8)"/>
<circle cx="222.4" cy="526.0" r="4.6" fill="url(#g1a2ad8)"/>
<circle cx="249.5" cy="526.0" r="4.6" fill="url(#g1a2ad8)"/>
<circle cx="276.6" cy="526.0" r="4.6" fill="url(#g1a2ad8)"/>
<circle cx="303.7" cy="526.0" r="4.6" fill="url(#g1a2ad8)"/>
<circle cx="132.3" cy="533.9" r="4.1" fill="url(#gc48a48)"/>
<circle cx="159.4" cy="533.9" r="4.1" fill="url(#gc48a48)"/>
<circle cx="186.5" cy="533.9" r="4.1" fill="url(#gc48a48)"/>
<circle cx="213.5" cy="533.9" r="4.1" fill="url(#gc48a48)"/>
<circle cx="240.6" cy="533.9" r="4.1" fill="url(#gc48a48)"/>
<circle cx="267.7" cy="533.9" r="4.1" fill="url(#gc48a48)"/>
<circle cx="294.8" cy="533.9" r="4.1" fill="url(#gc48a48)"/>
<circle cx="141.2" cy="546.4" r="4.1" fill="url(#gc48a48)"/>
<circle cx="168.3" cy="546.4" r="4.1" fill="url(#gc48a48)"/>
<circle cx="195.4" cy="546.4" r="4.6" fill="none" stroke="#c9a0a0" stroke-width="0.8" stroke-dasharray="1.5 1"/>
<circle cx="187.4" cy="544.4" r="1.5" fill="#b4cc64"/>
<circle cx="204.0" cy="542.8" r="1.5" fill="#b4cc64"/>
<circle cx="222.4" cy="546.4" r="4.1" fill="url(#gc48a48)"/>
<circle cx="249.5" cy="546.4" r="4.1" fill="url(#gc48a48)"/>
<circle cx="276.6" cy="546.4" r="4.1" fill="url(#gc48a48)"/>
<circle cx="303.7" cy="546.4" r="4.1" fill="url(#gc48a48)"/>
<circle cx="132.3" cy="554.0" r="4.6" fill="url(#g1a2ad8)"/>
<circle cx="159.4" cy="554.0" r="4.6" fill="url(#g1a2ad8)"/>
<circle cx="186.5" cy="554.0" r="4.6" fill="url(#g1a2ad8)"/>
<circle cx="213.5" cy="554.0" r="4.6" fill="url(#g1a2ad8)"/>
<circle cx="240.6" cy="554.0" r="4.6" fill="url(#g1a2ad8)"/>
<circle cx="267.7" cy="554.0" r="4.6" fill="url(#g1a2ad8)"/>
<circle cx="294.8" cy="554.0" r="4.6" fill="url(#g1a2ad8)"/>
<circle cx="123.1" cy="564.5" r="4.3" fill="url(#ge0191c)"/>
<circle cx="150.2" cy="564.5" r="4.3" fill="url(#ge0191c)"/>
<circle cx="177.3" cy="564.5" r="4.3" fill="url(#ge0191c)"/>
<circle cx="204.3" cy="564.5" r="4.3" fill="url(#ge0191c)"/>
<circle cx="231.4" cy="564.5" r="4.3" fill="url(#ge0191c)"/>
<circle cx="258.5" cy="564.5" r="4.6" fill="none" stroke="#c9a0a0" stroke-width="0.8" stroke-dasharray="1.5 1"/>
<circle cx="249.5" cy="564.5" r="1.5" fill="#b4cc64"/>
<circle cx="259.2" cy="557.5" r="1.5" fill="#b4cc64"/>
<circle cx="285.6" cy="564.5" r="4.3" fill="url(#ge0191c)"/>
<circle cx="312.7" cy="564.5" r="4.3" fill="url(#ge0191c)"/>
<circle cx="141.2" cy="576.2" r="4.6" fill="url(#g1a2ad8)"/>
<circle cx="168.3" cy="576.2" r="4.6" fill="url(#g1a2ad8)"/>
<circle cx="195.4" cy="576.2" r="4.6" fill="url(#g1a2ad8)"/>
<circle cx="222.4" cy="576.2" r="4.6" fill="url(#g1a2ad8)"/>
<circle cx="249.5" cy="576.2" r="4.6" fill="url(#g1a2ad8)"/>
<circle cx="276.6" cy="576.2" r="4.6" fill="url(#g1a2ad8)"/>
<circle cx="303.7" cy="576.2" r="4.6" fill="url(#g1a2ad8)"/>
<circle cx="364.2" cy="415.9" r="4.3" fill="url(#ge0191c)"/>
<circle cx="391.3" cy="415.9" r="4.3" fill="url(#ge0191c)"/>
<circle cx="418.4" cy="415.9" r="4.3" fill="url(#ge0191c)"/>
<circle cx="445.4" cy="415.9" r="4.3" fill="url(#ge0191c)"/>
<circle cx="472.5" cy="415.9" r="4.3" fill="url(#ge0191c)"/>
<circle cx="499.6" cy="415.9" r="4.3" fill="url(#ge0191c)"/>
<circle cx="526.7" cy="415.9" r="4.3" fill="url(#ge0191c)"/>
<circle cx="553.8" cy="415.9" r="4.3" fill="url(#ge0191c)"/>
<circle cx="382.3" cy="427.0" r="4.6" fill="url(#g1a2ad8)"/>
<circle cx="409.4" cy="427.0" r="4.6" fill="url(#g1a2ad8)"/>
<circle cx="436.5" cy="427.0" r="4.6" fill="url(#g1a2ad8)"/>
<circle cx="463.5" cy="427.0" r="5" fill="url(#g36c6d0)"/>
<circle cx="490.6" cy="427.0" r="4.6" fill="url(#g1a2ad8)"/>
<circle cx="517.7" cy="427.0" r="4.6" fill="url(#g1a2ad8)"/>
<circle cx="544.8" cy="427.0" r="4.6" fill="url(#g1a2ad8)"/>
<circle cx="373.4" cy="434.6" r="4.1" fill="url(#gc48a48)"/>
<circle cx="400.5" cy="434.6" r="4.1" fill="url(#gc48a48)"/>
<circle cx="427.6" cy="434.6" r="4.1" fill="url(#gc48a48)"/>
<circle cx="454.6" cy="434.6" r="4.1" fill="url(#gc48a48)"/>
<circle cx="481.7" cy="434.6" r="4.1" fill="url(#gc48a48)"/>
<circle cx="508.8" cy="434.6" r="4.1" fill="url(#gc48a48)"/>
<circle cx="535.9" cy="434.6" r="4.1" fill="url(#gc48a48)"/>
<circle cx="382.3" cy="447.4" r="4.1" fill="url(#gc48a48)"/>
<circle cx="409.4" cy="447.4" r="4.1" fill="url(#gc48a48)"/>
<circle cx="436.5" cy="447.4" r="4.1" fill="url(#gc48a48)"/>
<circle cx="463.5" cy="447.4" r="4.1" fill="url(#gc48a48)"/>
<circle cx="490.6" cy="447.4" r="4.1" fill="url(#gc48a48)"/>
<circle cx="517.7" cy="447.4" r="4.1" fill="url(#gc48a48)"/>
<circle cx="544.8" cy="447.4" r="4.1" fill="url(#gc48a48)"/>
<circle cx="373.4" cy="454.4" r="4.6" fill="url(#g1a2ad8)"/>
<circle cx="400.5" cy="454.4" r="4.6" fill="url(#g1a2ad8)"/>
<circle cx="427.6" cy="454.4" r="4.6" fill="url(#g1a2ad8)"/>
<circle cx="454.6" cy="454.4" r="4.6" fill="url(#g1a2ad8)"/>
<circle cx="481.7" cy="454.4" r="4.6" fill="url(#g1a2ad8)"/>
<circle cx="508.8" cy="454.4" r="4.6" fill="url(#g1a2ad8)"/>
<circle cx="535.9" cy="454.4" r="4.6" fill="url(#g1a2ad8)"/>
<circle cx="364.2" cy="466.1" r="4.3" fill="url(#ge0191c)"/>
<circle cx="391.3" cy="466.1" r="4.3" fill="url(#ge0191c)"/>
<circle cx="418.4" cy="466.1" r="4.3" fill="url(#ge0191c)"/>
<circle cx="445.4" cy="466.1" r="4.3" fill="url(#ge0191c)"/>
<circle cx="472.5" cy="466.1" r="4.3" fill="url(#ge0191c)"/>
<circle cx="499.6" cy="466.1" r="4.3" fill="url(#ge0191c)"/>
<circle cx="526.7" cy="466.1" r="4.3" fill="url(#ge0191c)"/>
<circle cx="553.8" cy="466.1" r="4.3" fill="url(#ge0191c)"/>
<circle cx="382.3" cy="476.7" r="4.6" fill="url(#g1a2ad8)"/>
<circle cx="409.4" cy="476.7" r="4.6" fill="url(#g1a2ad8)"/>
<circle cx="436.5" cy="476.7" r="4.6" fill="url(#g1a2ad8)"/>
<circle cx="463.5" cy="476.7" r="4.6" fill="url(#g1a2ad8)"/>
<circle cx="490.6" cy="476.7" r="4.6" fill="url(#g1a2ad8)"/>
<circle cx="517.7" cy="476.7" r="4.6" fill="url(#g1a2ad8)"/>
<circle cx="544.8" cy="476.7" r="4.6" fill="url(#g1a2ad8)"/>
<circle cx="373.4" cy="484.2" r="4.1" fill="url(#gc48a48)"/>
<circle cx="400.5" cy="484.2" r="4.1" fill="url(#gc48a48)"/>
<circle cx="427.6" cy="484.2" r="4.1" fill="url(#gc48a48)"/>
<circle cx="454.6" cy="484.2" r="4.1" fill="url(#gc48a48)"/>
<circle cx="481.7" cy="484.2" r="4.1" fill="url(#gc48a48)"/>
<circle cx="508.8" cy="484.2" r="4.1" fill="url(#gc48a48)"/>
<circle cx="535.9" cy="484.2" r="4.1" fill="url(#gc48a48)"/>
<circle cx="382.3" cy="497.0" r="4.1" fill="url(#gc48a48)"/>
<circle cx="409.4" cy="497.0" r="4.1" fill="url(#gc48a48)"/>
<circle cx="436.5" cy="497.0" r="4.1" fill="url(#gc48a48)"/>
<circle cx="463.5" cy="497.0" r="4.1" fill="url(#gc48a48)"/>
<circle cx="490.6" cy="497.0" r="4.1" fill="url(#gc48a48)"/>
<circle cx="517.7" cy="497.0" r="4.1" fill="url(#gc48a48)"/>
<circle cx="544.8" cy="497.0" r="4.1" fill="url(#gc48a48)"/>
<circle cx="373.4" cy="504.6" r="4.6" fill="url(#g1a2ad8)"/>
<circle cx="400.5" cy="504.6" r="4.6" fill="url(#g1a2ad8)"/>
<circle cx="427.6" cy="504.6" r="4.6" fill="url(#g1a2ad8)"/>
<circle cx="454.6" cy="504.6" r="5" fill="url(#g36c6d0)"/>
<circle cx="481.7" cy="504.6" r="4.6" fill="url(#g1a2ad8)"/>
<circle cx="508.8" cy="504.6" r="4.6" fill="url(#g1a2ad8)"/>
<circle cx="535.9" cy="504.6" r="4.6" fill="url(#g1a2ad8)"/>
<circle cx="364.2" cy="514.9" r="4.3" fill="url(#ge0191c)"/>
<circle cx="391.3" cy="514.9" r="4.3" fill="url(#ge0191c)"/>
<circle cx="418.4" cy="514.9" r="4.3" fill="url(#ge0191c)"/>
<circle cx="445.4" cy="514.9" r="4.3" fill="url(#ge0191c)"/>
<circle cx="472.5" cy="514.9" r="4.3" fill="url(#ge0191c)"/>
<circle cx="499.6" cy="514.9" r="4.3" fill="url(#ge0191c)"/>
<circle cx="526.7" cy="514.9" r="4.3" fill="url(#ge0191c)"/>
<circle cx="553.8" cy="514.9" r="4.3" fill="url(#ge0191c)"/>
<circle cx="382.3" cy="526.0" r="4.6" fill="url(#g1a2ad8)"/>
<circle cx="409.4" cy="526.0" r="4.6" fill="url(#g1a2ad8)"/>
<circle cx="436.5" cy="526.0" r="4.6" fill="url(#g1a2ad8)"/>
<circle cx="463.5" cy="526.0" r="4.6" fill="url(#g1a2ad8)"/>
<circle cx="490.6" cy="526.0" r="4.6" fill="url(#g1a2ad8)"/>
<circle cx="517.7" cy="526.0" r="4.6" fill="url(#g1a2ad8)"/>
<circle cx="544.8" cy="526.0" r="4.6" fill="url(#g1a2ad8)"/>
<circle cx="373.4" cy="533.9" r="4.1" fill="url(#gc48a48)"/>
<circle cx="400.5" cy="533.9" r="4.1" fill="url(#gc48a48)"/>
<circle cx="427.6" cy="533.9" r="4.1" fill="url(#gc48a48)"/>
<circle cx="454.6" cy="533.9" r="4.1" fill="url(#gc48a48)"/>
<circle cx="481.7" cy="533.9" r="4.1" fill="url(#gc48a48)"/>
<circle cx="508.8" cy="533.9" r="4.1" fill="url(#gc48a48)"/>
<circle cx="535.9" cy="533.9" r="4.1" fill="url(#gc48a48)"/>
<circle cx="382.3" cy="546.4" r="4.1" fill="url(#gc48a48)"/>
<circle cx="409.4" cy="546.4" r="4.1" fill="url(#gc48a48)"/>
<circle cx="436.5" cy="546.4" r="4.1" fill="url(#gc48a48)"/>
<circle cx="463.5" cy="546.4" r="4.1" fill="url(#gc48a48)"/>
<circle cx="490.6" cy="546.4" r="4.1" fill="url(#gc48a48)"/>
<circle cx="517.7" cy="546.4" r="4.1" fill="url(#gc48a48)"/>
<circle cx="544.8" cy="546.4" r="4.1" fill="url(#gc48a48)"/>
<circle cx="373.4" cy="554.0" r="5" fill="url(#g36c6d0)"/>
<circle cx="400.5" cy="554.0" r="4.6" fill="url(#g1a2ad8)"/>
<circle cx="427.6" cy="554.0" r="4.6" fill="url(#g1a2ad8)"/>
<circle cx="454.6" cy="554.0" r="4.6" fill="url(#g1a2ad8)"/>
<circle cx="481.7" cy="554.0" r="4.6" fill="url(#g1a2ad8)"/>
<circle cx="508.8" cy="554.0" r="4.6" fill="url(#g1a2ad8)"/>
<circle cx="535.9" cy="554.0" r="4.6" fill="url(#g1a2ad8)"/>
<circle cx="364.2" cy="564.5" r="4.3" fill="url(#ge0191c)"/>
<circle cx="391.3" cy="564.5" r="4.3" fill="url(#ge0191c)"/>
<circle cx="418.4" cy="564.5" r="4.3" fill="url(#ge0191c)"/>
<circle cx="445.4" cy="564.5" r="4.3" fill="url(#ge0191c)"/>
<circle cx="472.5" cy="564.5" r="4.3" fill="url(#ge0191c)"/>
<circle cx="499.6" cy="564.5" r="4.3" fill="url(#ge0191c)"/>
<circle cx="526.7" cy="564.5" r="4.3" fill="url(#ge0191c)"/>
<circle cx="553.8" cy="564.5" r="4.3" fill="url(#ge0191c)"/>
<circle cx="382.3" cy="576.2" r="4.6" fill="url(#g1a2ad8)"/>
<circle cx="409.4" cy="576.2" r="4.6" fill="url(#g1a2ad8)"/>
<circle cx="436.5" cy="576.2" r="4.6" fill="url(#g1a2ad8)"/>
<circle cx="463.5" cy="576.2" r="4.6" fill="url(#g1a2ad8)"/>
<circle cx="490.6" cy="576.2" r="4.6" fill="url(#g1a2ad8)"/>
<circle cx="517.7" cy="576.2" r="4.6" fill="url(#g1a2ad8)"/>
<circle cx="544.8" cy="576.2" r="4.6" fill="url(#g1a2ad8)"/>
<circle cx="461" cy="417" r="1.6" fill="none" stroke="#6a4c8c" stroke-width="0.9"/>
<circle cx="444.6" cy="499.8" r="1.6" fill="none" stroke="#6a4c8c" stroke-width="0.9"/>
<circle cx="371" cy="544.6" r="1.6" fill="none" stroke="#6a4c8c" stroke-width="0.9"/>
<path d="M290,509 C296,512 304,508 311,502" fill="none" stroke="#3b7fbf" stroke-width="1"/>
<polygon points="314,500.5 308.5,501 311,505" fill="#3b7fbf"/>
<text x="320.5" y="505.5" font-size="12.5" font-weight="normal" text-anchor="start" fill="#555"  >h<tspan font-size="10" dy="-5.5">+</tspan></text>
<path d="M367,547 C363,546 361,543 359,540" fill="none" stroke="#3b7fbf" stroke-width="0.9"/>
<polygon points="356.5,537.5 357.5,542 361,539.5" fill="#3b7fbf"/>
<text x="345.3" y="539" font-size="12.5" font-weight="normal" text-anchor="start" fill="#555"  >e<tspan font-size="10" dy="-5.5">−</tspan></text>
<circle cx="193.6" cy="593.6" r="3.3" fill="url(#ge0191c)"/>
<text x="202" y="597.5" font-size="12" font-weight="normal" text-anchor="start" fill="#000"  >Mg1</text>
<circle cx="232.4" cy="593.6" r="3.3" fill="url(#gd07a30)"/>
<text x="240.8" y="597.5" font-size="12" font-weight="normal" text-anchor="start" fill="#000"  >Mg2</text>
<circle cx="270.0" cy="593.3" r="3.3" fill="url(#g1a2ad8)"/>
<text x="275.3" y="597.5" font-size="12" font-weight="normal" text-anchor="start" fill="#000"  >Bi/Sb</text>
<circle cx="307.8" cy="593.6" r="3.3" fill="none" stroke="#d04040" stroke-width="0.9" stroke-dasharray="1.6 1"/>
<text x="314" y="597.5" font-size="12" font-weight="normal" text-anchor="start" fill="#000"  >V<tspan font-size="8" dy="3">Mg</tspan><tspan font-size="8" dx="-12" dy="-9">′′</tspan></text>
<circle cx="345.5" cy="593.6" r="3.4" fill="url(#g3cbcc8)"/>
<text x="351.8" y="597.5" font-size="12" font-weight="normal" text-anchor="start" fill="#000"  >Te<tspan font-size="8" dy="3">Bi</tspan><tspan font-size="8" dx="-9" dy="-9">′</tspan></text>
<circle cx="381.5" cy="592.5" r="1.7" fill="url(#ga8c860)"/>
<text x="387" y="597.5" font-size="12" font-weight="normal" text-anchor="start" fill="#000"  >Hole</text>
<circle cx="414.4" cy="593" r="1.5" fill="none" stroke="#6a4c8c" stroke-width="0.8"/>
<text x="425" y="597.5" font-size="12" font-weight="normal" text-anchor="start" fill="#000"  >Electron</text>
<polygon points="102.5,612.3 563.5,612.3 563.5,604 580.3,621 563.5,637.7 563.5,630 102.5,630" fill="url(#banner)"/>
<text x="144.4" y="627" font-size="15.5" font-weight="normal" text-anchor="start" fill="#000"  textLength="386.6" lengthAdjust="spacingAndGlyphs">Excessive Mg+ donor doping to achieve high performance n-type films</text>
<text x="602.3" y="376.8" font-size="31.8" font-weight="normal" text-anchor="start" fill="#000"  >(c)</text>
<rect x="675.4" y="352.5" width="326.9" height="262.3" fill="none" stroke="#000" stroke-width="1.6"/>
<line x1="675.4" y1="352.0" x2="678.1999999999999" y2="352.0" stroke="#000" stroke-width="1.4"/>
<line x1="675.4" y1="384.8" x2="679.9" y2="384.8" stroke="#000" stroke-width="1.4"/>
<text x="670" y="389.79999999999995" font-size="14.5" font-weight="bold" text-anchor="end" fill="#000"  >100</text>
<line x1="675.4" y1="417.6" x2="678.1999999999999" y2="417.6" stroke="#000" stroke-width="1.4"/>
<line x1="675.4" y1="450.4" x2="679.9" y2="450.4" stroke="#000" stroke-width="1.4"/>
<text x="670" y="455.4" font-size="14.5" font-weight="bold" text-anchor="end" fill="#000"  >0</text>
<line x1="675.4" y1="483.2" x2="678.1999999999999" y2="483.2" stroke="#000" stroke-width="1.4"/>
<line x1="675.4" y1="516.0" x2="679.9" y2="516.0" stroke="#000" stroke-width="1.4"/>
<text x="670" y="521.0" font-size="14.5" font-weight="bold" text-anchor="end" fill="#000"  >-100</text>
<line x1="675.4" y1="548.8" x2="678.1999999999999" y2="548.8" stroke="#000" stroke-width="1.4"/>
<line x1="675.4" y1="581.6" x2="679.9" y2="581.6" stroke="#000" stroke-width="1.4"/>
<text x="670" y="586.6" font-size="14.5" font-weight="bold" text-anchor="end" fill="#000"  >-200</text>
<line x1="675.4" y1="614.4" x2="678.1999999999999" y2="614.4" stroke="#000" stroke-width="1.4"/>
<line x1="675.1" y1="614.8" x2="675.1" y2="617.5999999999999" stroke="#000" stroke-width="1.4"/>
<line x1="704.9" y1="614.8" x2="704.9" y2="619.3" stroke="#000" stroke-width="1.4"/>
<text x="704.9" y="634.3" font-size="14.5" font-weight="bold" text-anchor="middle" fill="#000"  >300</text>
<line x1="734.6" y1="614.8" x2="734.6" y2="617.5999999999999" stroke="#000" stroke-width="1.4"/>
<line x1="764.3" y1="614.8" x2="764.3" y2="619.3" stroke="#000" stroke-width="1.4"/>
<text x="764.3" y="634.3" font-size="14.5" font-weight="bold" text-anchor="middle" fill="#000"  >350</text>
<line x1="794.0" y1="614.8" x2="794.0" y2="617.5999999999999" stroke="#000" stroke-width="1.4"/>
<line x1="823.7" y1="614.8" x2="823.7" y2="619.3" stroke="#000" stroke-width="1.4"/>
<text x="823.7" y="634.3" font-size="14.5" font-weight="bold" text-anchor="middle" fill="#000"  >400</text>
<line x1="853.4" y1="614.8" x2="853.4" y2="617.5999999999999" stroke="#000" stroke-width="1.4"/>
<line x1="883.1" y1="614.8" x2="883.1" y2="619.3" stroke="#000" stroke-width="1.4"/>
<text x="883.1" y="634.3" font-size="14.5" font-weight="bold" text-anchor="middle" fill="#000"  >450</text>
<line x1="912.9" y1="614.8" x2="912.9" y2="617.5999999999999" stroke="#000" stroke-width="1.4"/>
<line x1="942.6" y1="614.8" x2="942.6" y2="619.3" stroke="#000" stroke-width="1.4"/>
<text x="942.6" y="634.3" font-size="14.5" font-weight="bold" text-anchor="middle" fill="#000"  >500</text>
<line x1="972.3" y1="614.8" x2="972.3" y2="617.5999999999999" stroke="#000" stroke-width="1.4"/>
<line x1="1002.0" y1="614.8" x2="1002.0" y2="619.3" stroke="#000" stroke-width="1.4"/>
<text x="1002.0" y="634.3" font-size="14.5" font-weight="bold" text-anchor="middle" fill="#000"  >550</text>
<text x="838.5" y="663.5" font-size="20" font-weight="bold" text-anchor="middle"><tspan font-style="italic">T</tspan> (K)</text>
<text transform="translate(636.5,533) rotate(-90)" x="0" y="0" font-size="21" font-weight="bold" textLength="95.3" lengthAdjust="spacingAndGlyphs"><tspan font-style="italic">S</tspan> (μV<tspan dx="6">K</tspan><tspan font-size="12.5" dy="-8">-1</tspan><tspan dy="8">)</tspan></text>
<polyline points="704.9,405.4 734.6,403.6 764.3,399.5 794.0,396.4 823.7,393.8 853.4,391.8 883.1,388.7 912.9,386.1 942.6,384.3 972.3,382.3" fill="none" stroke="#e4803f" stroke-width="1.6"/>
<rect x="700.2" y="400.8" width="9.2" height="9.2" fill="#e4803f"/>
<rect x="730.0" y="399.0" width="9.2" height="9.2" fill="#e4803f"/>
<rect x="759.7" y="394.9" width="9.2" height="9.2" fill="#e4803f"/>
<rect x="789.4" y="391.8" width="9.2" height="9.2" fill="#e4803f"/>
<rect x="819.1" y="389.2" width="9.2" height="9.2" fill="#e4803f"/>
<rect x="848.8" y="387.2" width="9.2" height="9.2" fill="#e4803f"/>
<rect x="878.5" y="384.1" width="9.2" height="9.2" fill="#e4803f"/>
<rect x="908.3" y="381.5" width="9.2" height="9.2" fill="#e4803f"/>
<rect x="938.0" y="379.7" width="9.2" height="9.2" fill="#e4803f"/>
<rect x="967.7" y="377.7" width="9.2" height="9.2" fill="#e4803f"/>
<polyline points="704.9,368.6 734.6,370.7 764.3,376.4 794.0,384.8 823.7,390.7 853.4,400.2 883.1,413.9 912.9,413.9 942.6,418.3 972.3,413.1" fill="none" stroke="#f6c21c" stroke-width="1.6"/>
<circle cx="704.9" cy="368.6" r="5" fill="#f6c21c"/>
<circle cx="734.6" cy="370.7" r="5" fill="#f6c21c"/>
<circle cx="764.3" cy="376.4" r="5" fill="#f6c21c"/>
<circle cx="794.0" cy="384.8" r="5" fill="#f6c21c"/>
<circle cx="823.7" cy="390.7" r="5" fill="#f6c21c"/>
<circle cx="853.4" cy="400.2" r="5" fill="#f6c21c"/>
<circle cx="883.1" cy="413.9" r="5" fill="#f6c21c"/>
<circle cx="912.9" cy="413.9" r="5" fill="#f6c21c"/>
<circle cx="942.6" cy="418.3" r="5" fill="#f6c21c"/>
<circle cx="972.3" cy="413.1" r="5" fill="#f6c21c"/>
<polyline points="704.9,581.3 734.6,580.5 764.3,580.0 794.0,579.5 823.7,582.0 853.4,580.5 883.1,580.0 912.9,578.3 942.6,576.2 972.3,573.3" fill="none" stroke="#3a9fb2" stroke-width="1.6"/>
<polygon points="704.9,575.6 710.8,585.2 698.9,585.2" fill="#3a9fb2"/>
<polygon points="734.6,574.8 740.5,584.4 728.6,584.4" fill="#3a9fb2"/>
<polygon points="764.3,574.3 770.3,583.9 758.3,583.9" fill="#3a9fb2"/>
<polygon points="794.0,573.8 800.0,583.4 788.0,583.4" fill="#3a9fb2"/>
<polygon points="823.7,576.3 829.7,585.9 817.7,585.9" fill="#3a9fb2"/>
<polygon points="853.4,574.8 859.4,584.4 847.4,584.4" fill="#3a9fb2"/>
<polygon points="883.1,574.3 889.1,583.9 877.2,583.9" fill="#3a9fb2"/>
<polygon points="912.9,572.6 918.8,582.2 906.9,582.2" fill="#3a9fb2"/>
<polygon points="942.6,570.5 948.6,580.1 936.6,580.1" fill="#3a9fb2"/>
<polygon points="972.3,567.6 978.3,577.2 966.3,577.2" fill="#3a9fb2"/>
<polyline points="704.9,573.3 734.6,575.4 764.3,575.4 794.0,574.8 823.7,575.4 853.4,577.7 883.1,581.3 912.9,581.3 942.6,580.7 972.3,581.3" fill="none" stroke="#3f7fe0" stroke-width="1.6"/>
<polygon points="704.9,579.0 710.8,569.4 698.9,569.4" fill="#3f7fe0"/>
<polygon points="734.6,581.1 740.5,571.5 728.6,571.5" fill="#3f7fe0"/>
<polygon points="764.3,581.1 770.3,571.5 758.3,571.5" fill="#3f7fe0"/>
<polygon points="794.0,580.5 800.0,570.9 788.0,570.9" fill="#3f7fe0"/>
<polygon points="823.7,581.1 829.7,571.5 817.7,571.5" fill="#3f7fe0"/>
<polygon points="853.4,583.4 859.4,573.8 847.4,573.8" fill="#3f7fe0"/>
<polygon points="883.1,587.0 889.1,577.4 877.2,577.4" fill="#3f7fe0"/>
<polygon points="912.9,587.0 918.8,577.4 906.9,577.4" fill="#3f7fe0"/>
<polygon points="942.6,586.4 948.6,576.8 936.6,576.8" fill="#3f7fe0"/>
<polygon points="972.3,587.0 978.3,577.4 966.3,577.4" fill="#3f7fe0"/>
<polyline points="704.9,577.0 734.6,588.0 764.3,586.0 794.0,586.0 823.7,589.5 853.4,583.6 883.1,579.2 912.9,589.5 942.6,588.0 972.3,587.0" fill="none" stroke="#3566a0" stroke-width="1.6"/>
<polygon points="704.9,570.8 710.4,577.0 704.9,583.2 699.4,577.0" fill="#3566a0"/>
<polygon points="734.6,581.8 740.1,588.0 734.6,594.2 729.1,588.0" fill="#3566a0"/>
<polygon points="764.3,579.8 769.8,586.0 764.3,592.2 758.8,586.0" fill="#3566a0"/>
<polygon points="794.0,579.8 799.5,586.0 794.0,592.2 788.5,586.0" fill="#3566a0"/>
<polygon points="823.7,583.2 829.2,589.5 823.7,595.8 818.2,589.5" fill="#3566a0"/>
<polygon points="853.4,577.4 858.9,583.6 853.4,589.9 847.9,583.6" fill="#3566a0"/>
<polygon points="883.1,573.0 888.6,579.2 883.1,585.5 877.6,579.2" fill="#3566a0"/>
<polygon points="912.9,583.2 918.4,589.5 912.9,595.8 907.4,589.5" fill="#3566a0"/>
<polygon points="942.6,581.8 948.1,588.0 942.6,594.2 937.1,588.0" fill="#3566a0"/>
<polygon points="972.3,580.8 977.8,587.0 972.3,593.2 966.8,587.0" fill="#3566a0"/>
<text x="700.6" y="446.7" font-size="13.6" font-weight="bold" textLength="134.8" lengthAdjust="spacingAndGlyphs">Mg<tspan font-size="10" dy="4">3+<tspan font-style="italic">x</tspan></tspan><tspan dy="-4">Bi</tspan><tspan font-size="10" dy="4">1.46</tspan><tspan dy="-4">Sb</tspan><tspan font-size="10" dy="4">0.5</tspan><tspan dy="-4">Te</tspan><tspan font-size="10" dy="4">0.04</tspan></text>
<line x1="699.3" y1="464.5" x2="733.5" y2="464.5" stroke="#e4803f" stroke-width="1.6"/>
<rect x="711.7" y="459.8" width="9.4" height="9.4" fill="#e4803f"/>
<text x="736.2" y="470.0" font-size="16" font-weight="bold"><tspan font-style="italic">x</tspan>=0.05</text>
<line x1="699.3" y1="483.5" x2="733.5" y2="483.5" stroke="#f6c21c" stroke-width="1.6"/>
<circle cx="716.4" cy="483.5" r="4.9" fill="#f6c21c"/>
<text x="736.2" y="489.0" font-size="16" font-weight="bold"><tspan font-style="italic">x</tspan>=0.1</text>
<line x1="699.3" y1="502.5" x2="733.5" y2="502.5" stroke="#3a9fb2" stroke-width="1.6"/>
<polygon points="716.4,496.8 722.4,506.4 710.4,506.4" fill="#3a9fb2"/>
<text x="736.2" y="508.0" font-size="16" font-weight="bold"><tspan font-style="italic">x</tspan>=0.15</text>
<line x1="699.3" y1="521.5" x2="733.5" y2="521.5" stroke="#3f7fe0" stroke-width="1.6"/>
<polygon points="716.4,527.2 722.4,517.6 710.4,517.6" fill="#3f7fe0"/>
<text x="736.2" y="527.0" font-size="16" font-weight="bold"><tspan font-style="italic">x</tspan>=0.2</text>
<line x1="699.3" y1="540.5" x2="733.5" y2="540.5" stroke="#3566a0" stroke-width="1.6"/>
<polygon points="716.4,534.4 721.8,540.5 716.4,546.6 711.0,540.5" fill="#3566a0"/>
<text x="736.2" y="546.0" font-size="16" font-weight="bold"><tspan font-style="italic">x</tspan>=0.25</text>
<text x="868.8" y="455.8" font-size="23" font-weight="bold" text-anchor="start" fill="#d61f22"  textLength="67.9" lengthAdjust="spacingAndGlyphs">p-type</text>
<text x="869.7" y="538.4" font-size="23" font-weight="bold" text-anchor="start" fill="#d61f22"  textLength="67" lengthAdjust="spacingAndGlyphs">n-type</text>
<path d="M883.4,471.5 C903,470.5 917,480 915.8,492.5 C914.5,503 904,510 893,512 L893.5,517.5 L882.8,510.2 L891.5,501.8 L892.3,506.5 C901,504.5 909.5,499 909.8,492 C910,484.5 900,479 883.4,479.2 Z" fill="url(#curv)"/><defs><radialGradient id="gf0102e" cx="0.45" cy="0.45" r="0.6" fx="0.35" fy="0.3"><stop offset="0" stop-color="#f67b8c"/><stop offset="0.45" stop-color="#f0102e"/><stop offset="1" stop-color="#bb0c23"/></radialGradient><radialGradient id="g1218f0" cx="0.45" cy="0.45" r="0.6" fx="0.35" fy="0.3"><stop offset="0" stop-color="#7c7ff6"/><stop offset="0.45" stop-color="#1218f0"/><stop offset="1" stop-color="#0e12bb"/></radialGradient><radialGradient id="g20e4f8" cx="0.45" cy="0.45" r="0.6" fx="0.35" fy="0.3"><stop offset="0" stop-color="#84f0fb"/><stop offset="0.45" stop-color="#20e4f8"/><stop offset="1" stop-color="#18b1c1"/></radialGradient><radialGradient id="g18e050" cx="0.45" cy="0.45" r="0.6" fx="0.35" fy="0.3"><stop offset="0" stop-color="#7fed9e"/><stop offset="0.45" stop-color="#18e050"/><stop offset="1" stop-color="#12ae3e"/></radialGradient><radialGradient id="g1a2ed0" cx="0.45" cy="0.45" r="0.6" fx="0.35" fy="0.3"><stop offset="0" stop-color="#818ce5"/><stop offset="0.45" stop-color="#1a2ed0"/><stop offset="1" stop-color="#1423a2"/></radialGradient><radialGradient id="ge01b1b" cx="0.45" cy="0.45" r="0.6" fx="0.35" fy="0.3"><stop offset="0" stop-color="#ed8181"/><stop offset="0.45" stop-color="#e01b1b"/><stop offset="1" stop-color="#ae1515"/></radialGradient><radialGradient id="gf01010" cx="0.45" cy="0.45" r="0.6" fx="0.35" fy="0.3"><stop offset="0" stop-color="#f67b7b"/><stop offset="0.45" stop-color="#f01010"/><stop offset="1" stop-color="#bb0c0c"/></radialGradient><radialGradient id="gdd7a1e" cx="0.45" cy="0.45" r="0.6" fx="0.35" fy="0.3"><stop offset="0" stop-color="#ecb583"/><stop offset="0.45" stop-color="#dd7a1e"/><stop offset="1" stop-color="#ac5f17"/></radialGradient><radialGradient id="g1018e8" cx="0.45" cy="0.45" r="0.6" fx="0.35" fy="0.3"><stop offset="0" stop-color="#7b7ff2"/><stop offset="0.45" stop-color="#1018e8"/><stop offset="1" stop-color="#0c12b4"/></radialGradient><radialGradient id="ge0191c" cx="0.45" cy="0.45" r="0.6" fx="0.35" fy="0.3"><stop offset="0" stop-color="#ed8082"/><stop offset="0.45" stop-color="#e0191c"/><stop offset="1" stop-color="#ae1315"/></radialGradient><radialGradient id="g1a2ad8" cx="0.45" cy="0.45" r="0.6" fx="0.35" fy="0.3"><stop offset="0" stop-color="#8189e9"/><stop offset="0.45" stop-color="#1a2ad8"/><stop offset="1" stop-color="#1420a8"/></radialGradient><radialGradient id="gc48a48" cx="0.45" cy="0.45" r="0.6" fx="0.35" fy="0.3"><stop offset="0" stop-color="#debe9a"/><stop offset="0.45" stop-color="#c48a48"/><stop offset="1" stop-color="#986b38"/></radialGradient><radialGradient id="g36c6d0" cx="0.45" cy="0.45" r="0.6" fx="0.35" fy="0.3"><stop offset="0" stop-color="#90dfe5"/><stop offset="0.45" stop-color="#36c6d0"/><stop offset="1" stop-color="#2a9aa2"/></radialGradient><radialGradient id="gd07a30" cx="0.45" cy="0.45" r="0.6" fx="0.35" fy="0.3"><stop offset="0" stop-color="#e5b58d"/><stop offset="0.45" stop-color="#d07a30"/><stop offset="1" stop-color="#a25f25"/></radialGradient><radialGradient id="g3cbcc8" cx="0.45" cy="0.45" r="0.6" fx="0.35" fy="0.3"><stop offset="0" stop-color="#93dae0"/><stop offset="0.45" stop-color="#3cbcc8"/><stop offset="1" stop-color="#2e929c"/></radialGradient><radialGradient id="ga8c860" cx="0.45" cy="0.45" r="0.6" fx="0.35" fy="0.3"><stop offset="0" stop-color="#cfe0a7"/><stop offset="0.45" stop-color="#a8c860"/><stop offset="1" stop-color="#839c4a"/></radialGradient></defs>
</svg></body></html>
